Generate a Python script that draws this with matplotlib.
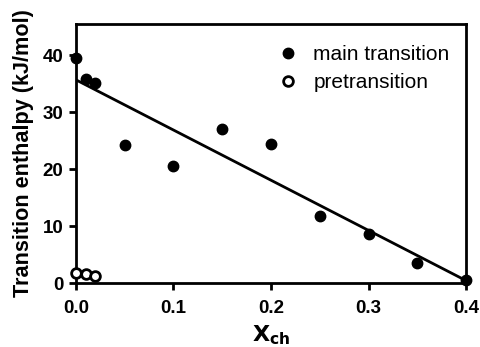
import numpy as np
import matplotlib
matplotlib.use("Agg")
import matplotlib.pyplot as plt

plt.rcParams['font.family'] = ['Liberation Sans', 'DejaVu Sans']

# main transition enthalpies vs cholesterol mole fraction
x_main = [0.0, 0.01, 0.02, 0.05, 0.10, 0.15, 0.20, 0.25, 0.30, 0.35, 0.40]
h_main = [39.5, 35.8, 35.1, 24.3, 20.5, 27.0, 24.5, 11.8, 8.7, 3.6, 0.6]

# pretransition enthalpies
x_pre = [0.0, 0.01, 0.02]
h_pre = [1.7, 1.6, 1.3]

x_ticks = [0.0, 0.1, 0.2, 0.3, 0.4]
y_ticks = [0, 10, 20, 30, 40]

fig = plt.figure(figsize=(4.8, 3.47), dpi=100)
ax = fig.add_axes([0.158, 0.184, 0.813, 0.747])

# linear fit through the main transition points
slope, icpt = np.polyfit(x_main, h_main, 1)
xf = np.array([0.0, 0.4])
ax.plot(xf, icpt + slope * xf, color='black', lw=2, zorder=2)

ax.plot(x_main, h_main, 'o', color='black', ms=7.5, label='main transition',
        clip_on=False, zorder=3)
ax.plot(x_pre, h_pre, 'o', mfc='white', mec='black', mew=2, ms=7,
        label='pretransition', clip_on=False, zorder=3)

ax.set_xlim(0, 0.4)
ax.set_ylim(0, 45.5)
ax.set_xticks(x_ticks)
ax.set_xticklabels([f"{v:.1f}" for v in x_ticks])
ax.set_yticks(y_ticks)

for s in ax.spines.values():
    s.set_linewidth(2)
ax.tick_params(axis='both', direction='out', length=5, width=2,
               labelsize=13.5, pad=4)
ax.tick_params(axis='x', pad=7)
for lab in ax.get_xticklabels() + ax.get_yticklabels():
    lab.set_fontweight('bold')

ax.set_xlabel(r'$\mathbf{X_{ch}}$', fontsize=16, labelpad=5)
ax.set_ylabel('Transition enthalpy (kJ/mol)', fontsize=15.6,
              fontweight='bold', labelpad=6)

ax.legend(loc='upper right', bbox_to_anchor=(0.995, 0.975), frameon=False,
          fontsize=15, handlelength=1, handletextpad=0.7,
          borderaxespad=0.3, labelspacing=0.45)

fig.savefig('out.png', dpi=100)
